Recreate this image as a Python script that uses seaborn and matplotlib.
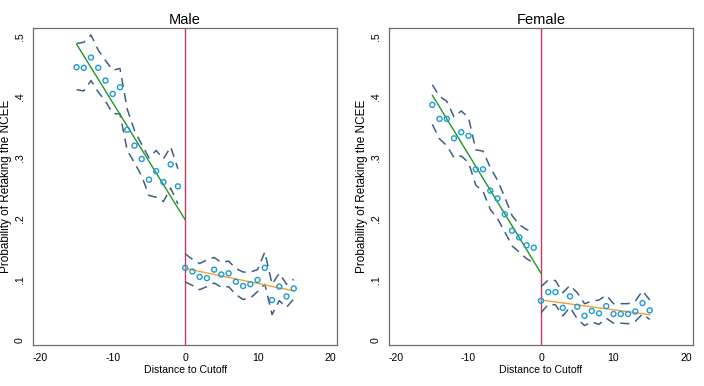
import matplotlib
matplotlib.use("Agg")
import matplotlib.pyplot as plt
import pandas as pd
import seaborn as sns

# bins of distance to the cutoff
bins_below = [-15, -14, -13, -12, -11, -10, -9, -8, -7, -6, -5, -4, -3, -2, -1]
bins_above = [0, 1, 2, 3, 4, 5, 6, 7, 8, 9, 10, 11, 12, 13, 14, 15]

# male: bin means and 95% bands
male_mean_below = [0.449, 0.448, 0.465, 0.448, 0.427, 0.405, 0.416, 0.346,
                   0.320, 0.298, 0.264, 0.278, 0.260, 0.289, 0.253]
male_upper_below = [0.488, 0.490, 0.502, 0.477, 0.460, 0.444, 0.447, 0.380,
                    0.345, 0.322, 0.300, 0.312, 0.298, 0.318, 0.282]
male_lower_below = [0.412, 0.410, 0.427, 0.408, 0.393, 0.373, 0.372, 0.312,
                    0.292, 0.270, 0.238, 0.235, 0.228, 0.250, 0.224]
male_mean_above = [0.119, 0.113, 0.104, 0.102, 0.116, 0.108, 0.110, 0.096,
                   0.089, 0.092, 0.099, 0.119, 0.066, 0.088, 0.072, 0.085]
male_upper_above = [0.142, 0.133, 0.126, 0.132, 0.136, 0.128, 0.130, 0.118,
                    0.112, 0.112, 0.116, 0.145, 0.092, 0.110, 0.092, 0.100]
male_lower_above = [0.096, 0.090, 0.083, 0.088, 0.094, 0.087, 0.088, 0.075,
                    0.067, 0.069, 0.080, 0.092, 0.042, 0.065, 0.054, 0.068]

# female
female_mean_below = [0.387, 0.364, 0.364, 0.332, 0.342, 0.336, 0.281, 0.281,
                     0.246, 0.233, 0.207, 0.180, 0.169, 0.156, 0.152]
female_upper_below = [0.420, 0.401, 0.393, 0.367, 0.377, 0.366, 0.313, 0.311,
                      0.284, 0.263, 0.235, 0.205, 0.190, 0.182, 0.178]
female_lower_below = [0.355, 0.331, 0.320, 0.300, 0.303, 0.292, 0.255, 0.245,
                      0.215, 0.200, 0.178, 0.155, 0.145, 0.134, 0.127]
female_mean_above = [0.065, 0.079, 0.079, 0.053, 0.072, 0.055, 0.040, 0.048,
                     0.044, 0.056, 0.043, 0.043, 0.043, 0.047, 0.061, 0.049]
female_upper_above = [0.088, 0.099, 0.098, 0.078, 0.090, 0.078, 0.060, 0.064,
                      0.066, 0.074, 0.060, 0.060, 0.060, 0.064, 0.081, 0.066]
female_lower_above = [0.045, 0.059, 0.058, 0.040, 0.054, 0.035, 0.024, 0.030,
                      0.026, 0.036, 0.028, 0.028, 0.027, 0.031, 0.043, 0.034]

# linear fits on each side of the cutoff
fit_x_below = [-15, 0]
fit_x_above = [0, 15]
male_fit_below = [0.487, 0.198]
male_fit_above = [0.118, 0.081]
female_fit_below = [0.403, 0.110]
female_fit_above = [0.066, 0.042]

x_ticks = [-20, -10, 0, 10, 20]
y_ticks = [0, 0.1, 0.2, 0.3, 0.4, 0.5]
y_ticklabels = ["0", ".1", ".2", ".3", ".4", ".5"]

DOT = "#1c9bd6"
BAND = "#3f5f84"
GREEN = "#1f9a1f"
ORANGE = "#f5a02c"
CUTOFF = "#c43a62"
FRAME = "#6e6e6e"


def draw_panel(ax, title, mean_b, up_b, lo_b, mean_a, up_a, lo_a, fit_b, fit_a):
    for xs, band in [(bins_below, up_b), (bins_below, lo_b),
                     (bins_above, up_a), (bins_above, lo_a)]:
        sns.lineplot(x=xs, y=band, ax=ax, color=BAND, linewidth=1.1,
                     linestyle=(0, (6, 4)), estimator=None)

    sns.lineplot(x=fit_x_below, y=fit_b, ax=ax, color=GREEN, linewidth=1.0,
                 estimator=None)
    sns.lineplot(x=fit_x_above, y=fit_a, ax=ax, color=ORANGE, linewidth=1.0,
                 estimator=None)

    df = pd.DataFrame({"x": bins_below + bins_above, "y": mean_b + mean_a})
    sns.scatterplot(data=df, x="x", y="y", ax=ax, marker="o", s=13,
                    facecolor="none", edgecolor=DOT, linewidth=1.0, zorder=4)

    ax.axvline(0, color=CUTOFF, linewidth=1.0, zorder=1)

    ax.set_xlim(-20.97, 20.97)
    ax.set_ylim(-0.008, 0.513)
    ax.set_xticks(x_ticks)
    ax.set_xticklabels([str(t) for t in x_ticks])
    ax.set_yticks(y_ticks)
    ax.set_yticklabels(y_ticklabels, rotation=90, va="center")
    ax.set_xlabel("Distance to Cutoff", fontsize=7.6, labelpad=1, color="black")
    ax.set_ylabel("Probability of Retaking the NCEE", fontsize=8.5, labelpad=2,
                  color="black")
    ax.set_title(title, fontsize=10.5, pad=3, color="black")
    ax.tick_params(axis="both", labelsize=7.6, length=4, width=0.8,
                   color=FRAME, labelcolor="black", direction="out", pad=2)
    for sp in ax.spines.values():
        sp.set_color(FRAME)
        sp.set_linewidth(0.9)
    ax.grid(False)


sns.set_theme(style="white")
plt.rcParams["font.family"] = ["Liberation Sans", "DejaVu Sans"]

fig = plt.figure(figsize=(7.04, 3.86), dpi=100)
ax1 = fig.add_axes([0.0473, 0.1062, 0.4314, 0.8205])
ax2 = fig.add_axes([0.5526, 0.1062, 0.4318, 0.8205])

draw_panel(ax1, "Male", male_mean_below, male_upper_below, male_lower_below,
           male_mean_above, male_upper_above, male_lower_above,
           male_fit_below, male_fit_above)
draw_panel(ax2, "Female", female_mean_below, female_upper_below, female_lower_below,
           female_mean_above, female_upper_above, female_lower_above,
           female_fit_below, female_fit_above)

fig.savefig("out.png", dpi=100, facecolor="white")
